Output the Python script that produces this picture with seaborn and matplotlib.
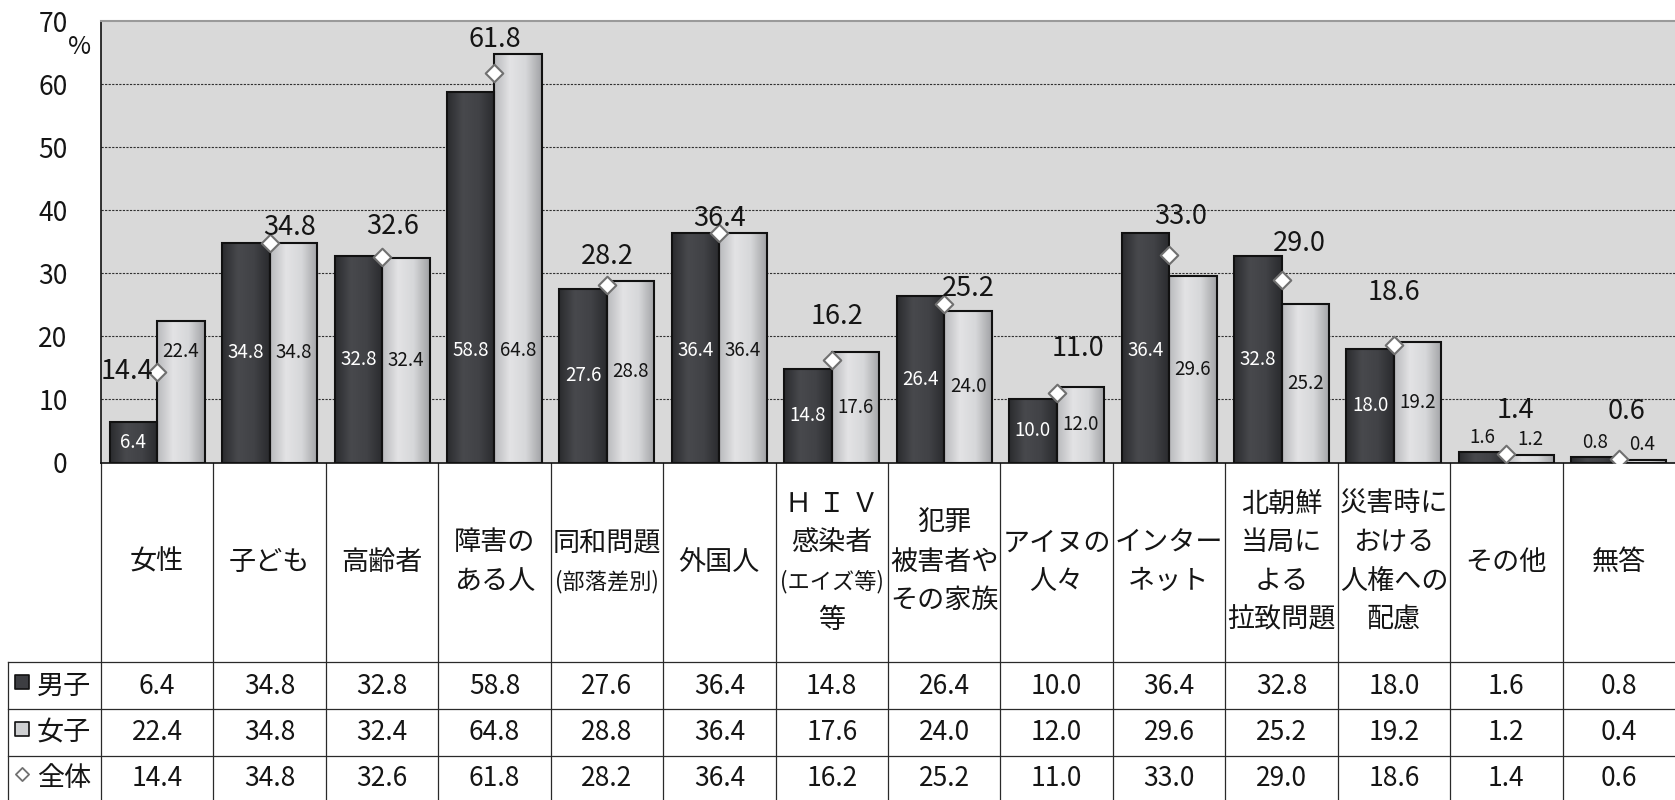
import numpy as np
import pandas as pd
import matplotlib
matplotlib.use("Agg")
import matplotlib.pyplot as plt
import matplotlib.transforms as mtransforms
from matplotlib.colors import LinearSegmentedColormap
import seaborn as sns

# ---------------- data ----------------
categories = ["女性", "子ども", "高齢者", "障害のある人", "同和問題(部落差別)", "外国人",
              "HIV感染者(エイズ等)等", "犯罪被害者やその家族", "アイヌの人々", "インターネット",
              "北朝鮮当局による拉致問題", "災害時における人権への配慮", "その他", "無答"]
category_lines = [["女性"], ["子ども"], ["高齢者"], ["障害の", "ある人"], ["同和問題", "(部落差別)"],
                  ["外国人"], ["Ｈ Ｉ Ｖ", "感染者", "(エイズ等)", "等"], ["犯罪", "被害者や", "その家族"],
                  ["アイヌの", "人々"], ["インター", "ネット"], ["北朝鮮", "当局に", "よる", "拉致問題"],
                  ["災害時に", "おける", "人権への", "配慮"], ["その他"], ["無答"]]
male = [6.4, 34.8, 32.8, 58.8, 27.6, 36.4, 14.8, 26.4, 10.0, 36.4, 32.8, 18.0, 1.6, 0.8]
female = [22.4, 34.8, 32.4, 64.8, 28.8, 36.4, 17.6, 24.0, 12.0, 29.6, 25.2, 19.2, 1.2, 0.4]
total = [14.4, 34.8, 32.6, 61.8, 28.2, 36.4, 16.2, 25.2, 11.0, 33.0, 29.0, 18.6, 1.4, 0.6]
series_names = ["男子", "女子", "全体"]
yticks = [0, 10, 20, 30, 40, 50, 60, 70]

# ---------------- layout / style ----------------
total_label_dx = [-0.27, 0.18, 0.09, 0, 0, 0, 0.05, 0.21, 0.19, 0.10, 0.16, 0, 0.08, 0.07]
total_label_dy = [0, 2.5, 4.9, 5.3, 4.5, 2.4, 7.0, 2.4, 7.1, 6.0, 5.7, 8.3, 6.9, 7.5]
inbar_override = {(1, 0): 17.6}   # (series, category) -> label height

FONT = ["Noto Sans CJK JP", "DejaVu Sans"]
plt.rcParams["font.family"] = FONT
TXT = "#151515"

W, H = 1675, 800
fig = plt.figure(figsize=(W / 100, H / 100), dpi=100)
fig.patch.set_facecolor("white")

# table axes in pixel coordinates
tab = fig.add_axes([0, 0, 1, 1])
tab.set_xlim(0, W)
tab.set_ylim(H, 0)
tab.axis("off")

# main chart axes
x0p, x1p, y0p, y1p = 101, 1675, 462.5, 21.4
ax = fig.add_axes([x0p / W, 1 - y0p / H, (x1p - x0p) / W, (y0p - y1p) / H])
ax.set_facecolor("#d9d9d9")

df = pd.DataFrame({
    "category": categories * 2,
    "series": [series_names[0]] * len(categories) + [series_names[1]] * len(categories),
    "value": male + female,
})
male_col, female_col = "#3d3e42", "#cfd0d2"
sns.barplot(data=df, x="category", y="value", hue="series", order=categories,
            hue_order=series_names[:2], palette=[male_col, female_col], width=0.845,
            gap=0, edgecolor="#111111", linewidth=1.5, saturation=1, legend=False,
            ax=ax, zorder=3)

n = len(categories)
ax.set_xlim(-0.5, n - 0.5)
ax.set_ylim(0, 70)

# gradient fill of bars
grad = np.linspace(0, 1, 64).reshape(1, -1)
cmaps = [LinearSegmentedColormap.from_list("m", ["#2b2c2f", "#48494d", "#414246", "#2a2b2e"]),
         LinearSegmentedColormap.from_list("f", ["#b9babd", "#e3e3e5", "#d6d7d9", "#a2a3a6"])]
for si, cont in enumerate(ax.containers[:2]):
    for p in cont:
        bx, by, bw, bh = p.get_x(), p.get_y(), p.get_width(), p.get_height()
        im = ax.imshow(grad, extent=[bx, bx + bw, by, by + bh], aspect="auto",
                       cmap=cmaps[si], origin="lower", zorder=2.9, interpolation="bilinear")
        im.set_clip_path(p)
        p.set_facecolor("none")
ax.set_xlim(-0.5, n - 0.5)
ax.set_ylim(0, 70)
ax.set_aspect("auto")

# in-bar labels
for si, cont in enumerate(ax.containers[:2]):
    for ci, p in enumerate(cont):
        v = p.get_height()
        cx = p.get_x() + p.get_width() / 2
        if v < 3:
            ly, col = v + 2.4, TXT
        else:
            ly = inbar_override.get((si, ci), min(v / 2, 17.8))
            col = "white" if si == 0 else TXT
        ax.text(cx, ly, f"{v:.1f}", ha="center", va="center", fontsize=13.5,
                color=col, zorder=6)

# overall markers
sns.scatterplot(x=np.arange(n), y=total, marker="D", s=80, color="white",
                edgecolor="#707070", linewidth=1.5, zorder=7, ax=ax, legend=False)
for i, v in enumerate(total):
    ax.text(i + total_label_dx[i], v + total_label_dy[i], f"{v:.1f}", ha="center",
            va="center", fontsize=19.5, color=TXT, zorder=8)

# axes styling
ax.set_yticks(yticks)
ax.set_yticklabels([str(t) for t in yticks])
ax.tick_params(axis="y", length=0, pad=24, labelsize=19, labelcolor=TXT)
ax.tick_params(axis="x", length=0, labelbottom=False)
ax.set_xlabel("")
ax.set_ylabel("")
ax.grid(False)
for t in yticks[1:-1]:
    ax.axhline(t, color="#303030", lw=0.8, ls=(0, (2, 1.2)), zorder=1)
ax.spines["left"].set_color("#111111")
ax.spines["left"].set_linewidth(1.2)
ax.spines["bottom"].set_color("#111111")
ax.spines["bottom"].set_linewidth(1.2)
ax.spines["top"].set_color("#9a9a9a")
ax.spines["top"].set_linewidth(1.5)
ax.spines["right"].set_visible(False)
fig.text(80 / W, 1 - 47 / H, "%", fontsize=18, ha="center", va="center", color=TXT)

# ---------------- table ----------------
blend = mtransforms.blended_transform_factory(ax.transData, tab.transData)
line_col = "#2a2a2a"
row_lines = [662, 709, 756]
row_centers = [686, 733, 779]
left_px = 8
for i in range(n):
    tab.plot([i - 0.5, i - 0.5], [y0p, H], color=line_col, lw=0.9, transform=blend, clip_on=False)
tab.plot([left_px, left_px], [row_lines[0], H], color=line_col, lw=0.9)
for yl in row_lines:
    tab.plot([left_px, W], [yl, yl], color=line_col, lw=0.9)

# category labels
cell_mid = (y0p + row_lines[0]) / 2
lh = 38.5
for i, lines in enumerate(category_lines):
    k = len(lines)
    for j, s in enumerate(lines):
        yy = cell_mid + (j - (k - 1) / 2) * lh
        fs = 16 if s.startswith("(") else 19.5
        tab.text(i, yy, s, ha="center", va="center", fontsize=fs, color=TXT,
                 transform=blend)

# row labels with icons
tab.scatter([22], [682], marker="s", s=95, color=male_col, edgecolors="#111111", linewidths=1.2, zorder=5)
tab.scatter([22], [729], marker="s", s=95, color=female_col, edgecolors="#111111", linewidths=1.2, zorder=5)
tab.scatter([22], [774], marker="D", s=45, color="white", edgecolors="#707070", linewidths=1.3, zorder=5)
for name, yc in zip(series_names, row_centers):
    tab.text(64, yc, name, ha="center", va="center", fontsize=19.5, color=TXT)

for vals, yc in zip([male, female, total], row_centers):
    for i, v in enumerate(vals):
        tab.text(i, yc, f"{v:.1f}", ha="center", va="center", fontsize=19,
                 color=TXT, transform=blend)

fig.savefig("out.png", dpi=100, facecolor="white")
